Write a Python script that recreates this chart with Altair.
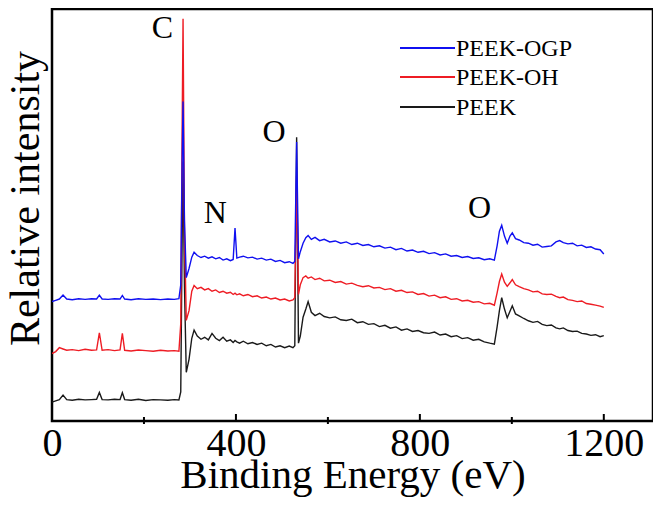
import altair as alt
import pandas as pd

# Binding energy grid (eV)
energy = [0, 8, 16, 24, 32, 44, 58, 72, 86, 97, 103, 109, 122, 136, 148, 153, 158, 172, 188, 204,
          220, 236, 252, 266, 276, 280, 283, 285, 288, 292, 298, 304, 309, 316, 324, 332, 340, 348, 356, 364,
          372, 380, 388, 394, 398, 402, 408, 416, 426, 436, 446, 456, 466, 476, 486, 496, 506, 516, 524, 528,
          532, 536, 540, 546, 552, 557, 564, 572, 582, 592, 604, 616, 628, 640, 652, 664, 676, 688, 700, 712,
          724, 736, 748, 760, 772, 784, 796, 808, 820, 832, 844, 856, 868, 880, 892, 904, 916, 928, 940, 952,
          962, 968, 973, 978, 984, 990, 996, 1001, 1008, 1016, 1026, 1036, 1046, 1056, 1066, 1076, 1086, 1096, 1104, 1112,
          1122, 1132, 1142, 1152, 1162, 1172, 1182, 1192, 1200]

peek = [58, 62, 66, 80, 66, 64, 67, 65, 66, 67, 88, 66, 65, 67, 66, 87, 66, 64, 67, 63,
        66, 65, 64, 66, 65, 90, 560, 800, 420, 150, 190, 255, 280, 262, 252, 258, 250, 270, 255, 248,
        258, 246, 250, 242, 248, 244, 240, 246, 238, 242, 236, 240, 232, 236, 228, 232, 226, 231, 226, 232,
        875, 240, 262, 320, 345, 368, 335, 325, 332, 322, 318, 321, 312, 310, 314, 303, 306, 298, 300, 291,
        295, 286, 290, 280, 284, 276, 279, 272, 270, 274, 265, 268, 260, 263, 254, 257, 249, 252, 244, 240,
        237, 290, 340, 380, 345, 318, 338, 355, 330, 324, 316, 309, 304, 307, 298, 294, 296, 287, 284, 287,
        279, 276, 277, 270, 268, 264, 266, 260, 263]

peek_oh = [208, 214, 226, 222, 218, 220, 217, 221, 218, 219, 272, 218, 220, 217, 219, 270, 218, 216, 219, 217,
           215, 218, 216, 217, 215, 300, 900, 1240, 600, 310, 340, 400, 418, 408, 412, 404, 408, 400, 404, 396,
           400, 394, 397, 390, 394, 389, 392, 386, 390, 383, 386, 379, 382, 376, 379, 373, 376, 370, 373, 380,
           755, 390, 420, 442, 447, 440, 444, 436, 440, 432, 434, 427, 430, 422, 425, 418, 414, 417, 410, 412,
           405, 408, 400, 403, 396, 398, 390, 393, 385, 388, 380, 383, 375, 377, 370, 372, 366, 368, 361, 363,
           357, 395, 430, 453, 428, 415, 426, 436, 420, 414, 408, 404, 398, 400, 392, 390, 391, 384, 380, 382,
           374, 372, 368, 370, 362, 360, 357, 354, 350]

peek_ogp = [368, 372, 376, 388, 376, 374, 377, 375, 377, 376, 388, 376, 375, 377, 376, 387, 376, 374, 377, 375,
            376, 374, 376, 375, 377, 420, 800, 985, 620, 442, 470, 505, 520, 510, 504, 508, 502, 506, 500, 504,
            496, 500, 494, 498, 595, 502, 505, 508, 503, 505, 499, 502, 496, 499, 492, 495, 488, 491, 486, 492,
            860, 500, 522, 548, 565, 572, 560, 566, 556, 560, 552, 555, 548, 552, 544, 548, 541, 544, 537, 540,
            533, 536, 528, 532, 524, 527, 520, 523, 516, 519, 512, 515, 508, 510, 504, 507, 501, 503, 497, 500,
            496, 540, 585, 603, 570, 548, 570, 580, 562, 558, 550, 548, 542, 545, 536, 538, 540, 552, 556, 550,
            546, 548, 540, 542, 535, 537, 530, 528, 515]

series_names = ["PEEK-OGP", "PEEK-OH", "PEEK"]
series_colors = ["#1010f0", "#ee1c24", "#1a1a1a"]

major_ticks = [400, 800, 1200]
minor_ticks = [200, 600, 1000]
tick_labels = [0, 400, 800, 1200]

ann_labels = ["C", "N", "O", "O"]
ann_energy = [240, 355, 483, 930]
ann_intensity = [1181, 610, 860, 626]

FONT = "Liberation Serif"
W, H = 601, 412

rows = []
for name, vals in [("PEEK", peek), ("PEEK-OH", peek_oh), ("PEEK-OGP", peek_ogp)]:
    for e, v in zip(energy, vals):
        rows.append({"series": name, "energy": e, "intensity": v})
df = pd.DataFrame(rows)

xscale = alt.Scale(domain=[0, 1307], nice=False, zero=False)
yscale = alt.Scale(domain=[0, 1270], nice=False, zero=False)

lines = alt.Chart(df).mark_line(strokeWidth=1.4, clip=True).encode(
    x=alt.X("energy:Q", scale=xscale,
            axis=alt.Axis(values=tick_labels, format="d", tickSize=0, domain=False, grid=False,
                          labelFlush=False, labelOverlap=False,
                          labelFont=FONT, labelFontSize=40, labelColor="#000",
                          labelBaseline="alphabetic", labelPadding=34,
                          title="Binding Energy (eV)", titleFont=FONT, titleFontSize=41,
                          titleFontWeight="normal", titleColor="#000",
                          titleBaseline="alphabetic", titleY=66)),
    y=alt.Y("intensity:Q", scale=yscale,
            axis=alt.Axis(labels=False, ticks=False, domain=False, grid=False,
                          title="Relative intensity", titleFont=FONT, titleFontSize=42,
                          titleFontWeight="normal", titleColor="#000",
                          titleAngle=270, titleBaseline="alphabetic", titleAlign="center",
                          titleX=-14, titleY=189)),
    color=alt.Color("series:N",
                    scale=alt.Scale(domain=series_names, range=series_colors),
                    legend=None),
    detail="series:N",
)

major_df = pd.DataFrame({"energy": major_ticks})
minor_df = pd.DataFrame({"energy": minor_ticks})

major_rules = alt.Chart(major_df).mark_rule(color="#000", strokeWidth=2).encode(
    x=alt.X("energy:Q", scale=xscale), y=alt.value(H), y2=alt.value(H - 7))
minor_rules = alt.Chart(minor_df).mark_rule(color="#000", strokeWidth=2).encode(
    x=alt.X("energy:Q", scale=xscale), y=alt.value(H + 3), y2=alt.value(H - 4))

ann_df = pd.DataFrame({"label": ann_labels, "energy": ann_energy, "intensity": ann_intensity})
ann = alt.Chart(ann_df).mark_text(font=FONT, fontSize=32, color="#000",
                                  align="center", baseline="alphabetic").encode(
    x=alt.X("energy:Q", scale=xscale), y=alt.Y("intensity:Q", scale=yscale), text="label:N")

# manual legend (line sample + label), rows top to bottom
legend_layers = []
row_y = [39, 68, 98]
for name, col, ry in zip(series_names, series_colors, row_y):
    ldf = pd.DataFrame({"series": [name]})
    legend_layers.append(
        alt.Chart(ldf).mark_rule(color=col, strokeWidth=2).encode(
            x=alt.value(348), x2=alt.value(403), y=alt.value(ry)))
    legend_layers.append(
        alt.Chart(ldf).mark_text(font=FONT, fontSize=24, color="#000",
                                 align="left", baseline="alphabetic").encode(
            x=alt.value(404), y=alt.value(ry + 8), text="series:N"))

chart = alt.layer(lines, major_rules, minor_rules, ann, *legend_layers).properties(
    width=W, height=H,
    autosize=alt.AutoSizeParams(type="none"),
    padding={"left": 44, "top": 1, "right": 0, "bottom": 77},
).configure(background="white", view=alt.ViewConfig(stroke="#000", strokeWidth=2.5))

chart.save("out.html", embed_options={"renderer": "svg", "actions": False})
